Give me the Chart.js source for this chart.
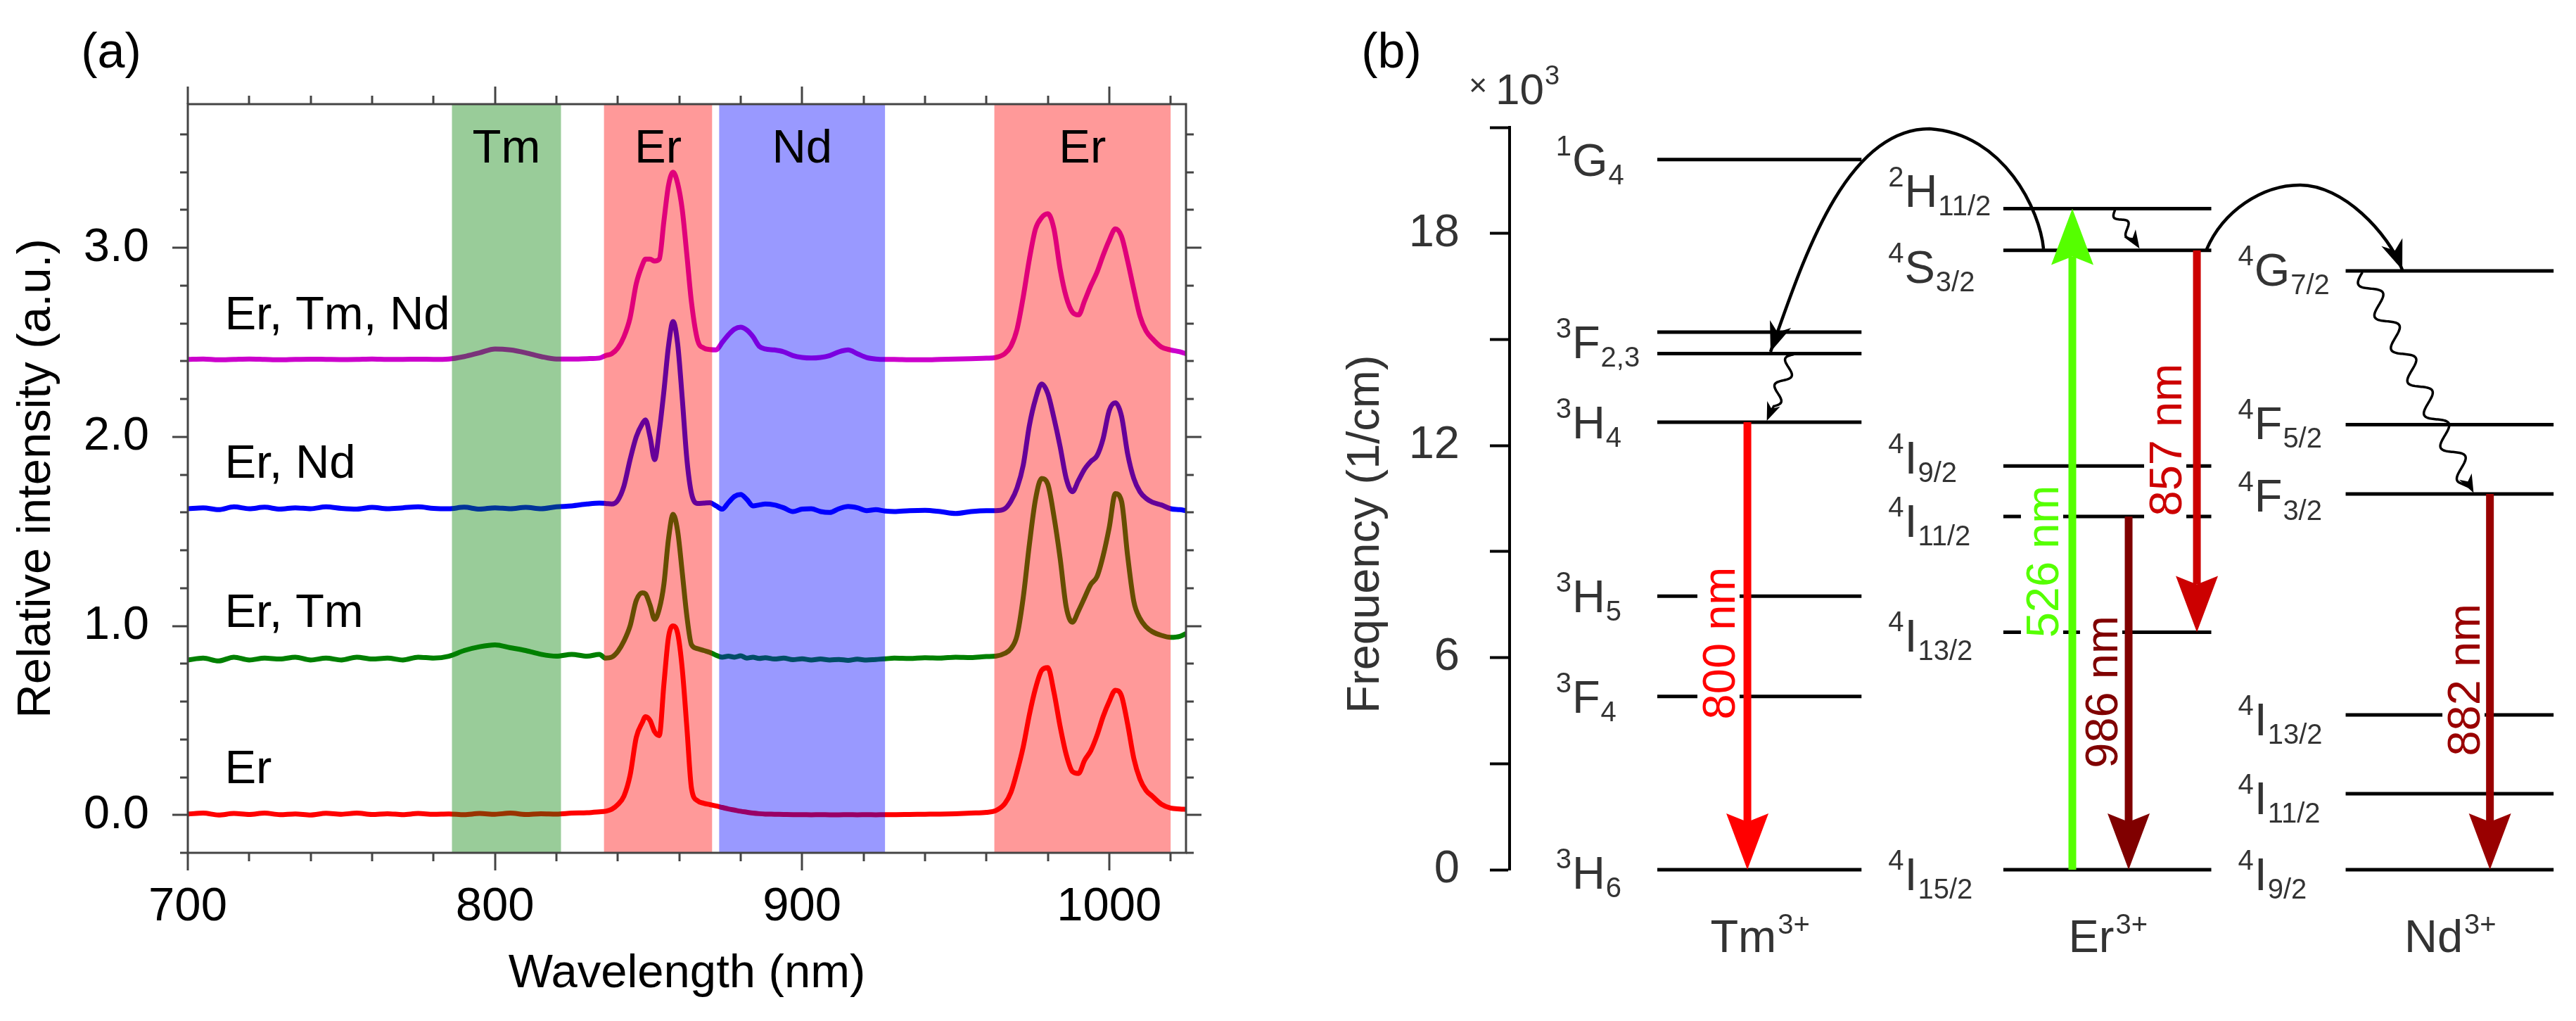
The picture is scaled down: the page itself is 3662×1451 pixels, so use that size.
<!DOCTYPE html>
<html>
<head>
<meta charset="utf-8">
<script src="https://cdn.jsdelivr.net/npm/chart.js@4.4.0/dist/chart.umd.min.js"></script>
<style>
  html, body { margin: 0; padding: 0; background: #fff; }
  body { width: 3662px; height: 1451px; position: relative; overflow: hidden; }
  #specWrap { position: absolute; left: 0; top: 0; width: 1800px; height: 1451px; }
  #levelWrap { position: absolute; left: 1850px; top: 0; width: 1812px; height: 1451px; }
</style>
</head>
<body>
<div id="specWrap"><canvas id="specChart" width="1800" height="1451"></canvas></div>
<div id="levelWrap"><canvas id="levelChart" width="1812" height="1451"></canvas></div>
<script>
// ---------- (a) emission spectra ----------
const wl = [700,705,710,715,720,725,730,735,740,745,750,755,760,765,770,775,780,
  785,790,795,800,805,810,815,820,825,830,
  834,836,838,840,842,844,846,848,
  849,850.5,852,853.5,855,856.5,858,859.5,861,862.5,864,
  866,868,870,872,874,876,878,880,882,884,886,888,
  891,894,897,900,903,906,909,912,915,918,921,924,927,930,
  935,940,945,950,955,960,
  963,966,
  968,970,972,974,976,978,980,982,984,986,988,990,992,994,996,998,1000,1002,1004,1006,1008,1010,1012,1014,
  1017,1020,1023,1025];

const er = [0.005,0.010,0.000,0.008,0.003,0.010,0.002,0.006,0.000,0.009,0.004,0.010,0.003,0.007,0.002,0.008,0.004,
  0.006,0.002,0.008,0.004,0.010,0.003,0.007,0.005,0.010,0.012,
  0.017,0.020,0.030,0.055,0.100,0.210,0.410,0.490,
  0.520,0.500,0.440,0.420,0.690,0.940,1.000,0.960,0.770,0.460,0.140,
  0.075,0.062,0.055,0.048,0.040,0.032,0.026,0.020,0.015,0.010,0.007,0.005,
  0.004,0.003,0.002,0.002,0.001,0.002,0.001,0.001,0.002,0.001,0.002,0.001,0.002,0.002,
  0.003,0.004,0.005,0.007,0.010,0.014,
  0.023,0.060,
  0.120,0.230,0.360,0.530,0.670,0.765,0.780,0.650,0.470,0.320,0.230,0.220,0.290,0.340,0.420,0.520,0.600,0.660,0.630,0.480,0.300,0.190,0.130,0.100,
  0.057,0.037,0.032,0.030];

const erTm = [0.820,0.830,0.815,0.835,0.820,0.830,0.825,0.835,0.820,0.830,0.820,0.835,0.825,0.830,0.820,0.835,0.830,
  0.840,0.870,0.890,0.900,0.885,0.870,0.850,0.840,0.850,0.840,
  0.850,0.830,0.835,0.865,0.920,1.000,1.134,1.175,
  1.170,1.110,1.035,1.090,1.220,1.460,1.590,1.500,1.280,1.050,0.900,
  0.880,0.870,0.860,0.845,0.835,0.840,0.835,0.842,0.830,0.835,0.828,0.832,
  0.825,0.830,0.822,0.826,0.820,0.825,0.820,0.823,0.818,0.824,0.820,0.823,0.826,0.830,
  0.828,0.832,0.830,0.835,0.833,0.838,
  0.840,0.855,
  0.880,0.950,1.150,1.430,1.670,1.780,1.750,1.580,1.360,1.100,1.020,1.080,1.150,1.220,1.260,1.370,1.520,1.700,1.660,1.370,1.130,1.040,0.995,0.970,
  0.950,0.940,0.945,0.960];

const erNd = [1.620,1.625,1.615,1.630,1.620,1.628,1.618,1.625,1.620,1.630,1.622,1.618,1.627,1.620,1.625,1.630,1.622,
  1.620,1.628,1.618,1.625,1.620,1.627,1.620,1.630,1.635,1.645,
  1.650,1.648,1.645,1.665,1.740,1.880,2.000,2.070,
  2.090,2.000,1.880,2.030,2.240,2.480,2.610,2.490,2.200,1.880,1.700,
  1.648,1.650,1.652,1.635,1.618,1.652,1.685,1.695,1.670,1.635,1.640,1.645,
  1.640,1.625,1.605,1.618,1.620,1.605,1.600,1.620,1.632,1.625,1.610,1.615,1.608,1.605,
  1.610,1.612,1.605,1.595,1.605,1.610,
  1.610,1.620,
  1.660,1.730,1.850,2.060,2.200,2.280,2.230,2.100,1.950,1.780,1.710,1.770,1.830,1.870,1.900,1.990,2.140,2.180,2.110,1.910,1.780,1.710,1.675,1.655,
  1.640,1.620,1.615,1.610];

const erTmNd = [2.410,2.412,2.408,2.410,2.412,2.410,2.408,2.410,2.411,2.410,2.409,2.410,2.412,2.410,2.410,2.411,2.410,
  2.412,2.425,2.445,2.465,2.460,2.445,2.425,2.412,2.412,2.414,
  2.417,2.430,2.440,2.470,2.530,2.630,2.810,2.910,
  2.940,2.940,2.930,2.940,3.140,3.330,3.400,3.340,3.200,2.960,2.710,
  2.510,2.470,2.462,2.460,2.500,2.540,2.570,2.580,2.565,2.530,2.480,2.465,
  2.460,2.450,2.430,2.420,2.417,2.420,2.430,2.450,2.460,2.440,2.420,2.412,2.410,2.410,
  2.408,2.408,2.410,2.412,2.414,2.416,
  2.420,2.440,
  2.480,2.570,2.740,2.940,3.100,3.160,3.180,3.100,2.890,2.740,2.660,2.645,2.720,2.800,2.870,2.960,3.040,3.100,3.060,2.930,2.780,2.640,2.560,2.520,
  2.475,2.460,2.450,2.440];

const seriesNames = ['Er', 'Er, Tm', 'Er, Nd', 'Er, Tm, Nd'];
const bandFrom = [786, 835.5, 873, 962.6];
const bandTo = [821.5, 870.7, 927, 1020];
const bandNames = ['Tm', 'Er', 'Nd', 'Er'];
const xTicks = [700, 800, 900, 1000];
const yTicks = [0, 1, 2, 3];

const FONT = '"Liberation Sans", Arial, sans-serif';
const bandFill = ['rgba(0,128,0,0.4)', 'rgba(255,0,0,0.4)', 'rgba(0,0,255,0.4)', 'rgba(255,0,0,0.4)'];
const seriesColor = ['#ff0000', '#008000', '#0000ff', '#cc00cc'];
// where the text labels sit, in axis units
const seriesLabelX = 712;
const seriesLabelY = [0.238, 1.064, 1.853, 2.638];
const bandLabelY = 3.52;

const specBands = {
  id: 'specBands',
  afterDatasetsDraw(chart) {
    const {ctx, chartArea: a, scales: {x, y}} = chart;
    ctx.save();
    ctx.font = `67px ${FONT}`;
    ctx.textBaseline = 'middle';
    bandFrom.forEach((f, i) => {
      const x0 = x.getPixelForValue(f), x1 = x.getPixelForValue(bandTo[i]);
      ctx.fillStyle = bandFill[i];
      ctx.fillRect(x0, a.top, x1 - x0, a.bottom - a.top);
      ctx.fillStyle = '#000';
      ctx.textAlign = 'center';
      ctx.fillText(bandNames[i], (x0 + x1) / 2, y.getPixelForValue(bandLabelY));
    });
    ctx.textAlign = 'left';
    seriesNames.forEach((n, i) => {
      ctx.fillText(n, x.getPixelForValue(seriesLabelX), y.getPixelForValue(seriesLabelY[i]));
    });
    ctx.restore();
  },
  afterDraw(chart) {
    const {ctx, chartArea: a, scales: {x, y}} = chart;
    ctx.save();
    ctx.strokeStyle = '#444';
    ctx.lineWidth = 3;
    ctx.strokeRect(a.left, a.top, a.right - a.left, a.bottom - a.top);
    ctx.beginPath();
    for (let v = 700; v <= 1020; v += 20) {
      const px = Math.round(x.getPixelForValue(v));
      const len = v % 100 === 0 ? 25 : 12;
      ctx.moveTo(px, a.bottom); ctx.lineTo(px, a.bottom + len);
      ctx.moveTo(px, a.top); ctx.lineTo(px, a.top - len);
    }
    for (let k = -1; k <= 18; k++) {
      const py = Math.round(y.getPixelForValue(k / 5));
      const len = k % 5 === 0 ? 22 : 11;
      ctx.moveTo(a.left, py); ctx.lineTo(a.left - len, py);
      ctx.moveTo(a.right, py); ctx.lineTo(a.right + len, py);
    }
    ctx.stroke();
    ctx.fillStyle = '#000';
    ctx.font = `70px ${FONT}`;
    ctx.textAlign = 'center';
    ctx.fillText('(a)', 158, 96);
    ctx.restore();
  }
};

const specSeries = [er, erTm, erNd, erTmNd];
new Chart(document.getElementById('specChart'), {
  type: 'line',
  data: {
    datasets: specSeries.map((vals, i) => ({
      label: seriesNames[i],
      data: wl.map((w, j) => ({x: w, y: vals[j]})),
      borderColor: seriesColor[i],
      borderWidth: 7,
      pointRadius: 0,
      cubicInterpolationMode: 'monotone',
      fill: false
    }))
  },
  options: {
    responsive: false,
    animation: false,
    devicePixelRatio: 1,
    layout: {padding: {left: 0, right: 114, top: 148, bottom: 0}},
    plugins: {legend: {display: false}, tooltip: {enabled: false}},
    scales: {
      x: {
        type: 'linear', min: 700, max: 1025,
        afterFit: s => { s.height = 239; },
        afterBuildTicks: s => { s.ticks = xTicks.map(v => ({value: v})); },
        grid: {display: false, drawTicks: false},
        border: {display: false},
        ticks: {color: '#000', font: {family: FONT, size: 67}, padding: 37, maxRotation: 0,
                callback: v => String(v)},
        title: {display: true, text: 'Wavelength (nm)', color: '#000',
                font: {family: FONT, size: 67}, padding: {top: 0, bottom: 26}}
      },
      y: {
        type: 'linear', min: -0.2, max: 3.76,
        afterFit: s => { s.width = 267; },
        afterBuildTicks: s => { s.ticks = yTicks.map(v => ({value: v})); },
        grid: {display: false, drawTicks: false},
        border: {display: false},
        ticks: {color: '#000', font: {family: FONT, size: 67}, padding: 55,
                callback: v => v.toFixed(1)},
        title: {display: true, text: 'Relative intensity (a.u.)', color: '#000',
                font: {family: FONT, size: 67}, padding: {top: 12, bottom: 0}}
      }
    }
  },
  plugins: [specBands]
});

// ---------- (b) energy levels ----------
const tmEnergy = [20.09, 15.21, 14.60, 12.66, 7.74, 4.90, 0];
const tmTerms = ['1G4', '3F2,3', '', '3H4', '3H5', '3F4', '3H6'];
const erEnergy = [18.70, 17.52, 11.42, 9.99, 6.72, 0];
const erTerms = ['2H11/2', '4S3/2', '4I9/2', '4I11/2', '4I13/2', '4I15/2'];
const ndEnergy = [16.94, 12.59, 10.63, 4.38, 2.15, 0];
const ndTerms = ['4G7/2', '4F5/2', '4F3/2', '4I13/2', '4I11/2', '4I9/2'];
const ionNames = ['Tm', 'Er', 'Nd'];
const emission = ['800 nm', '526 nm', '986 nm', '857 nm', '882 nm'];
const emissionFrom = [12.66, 0, 9.99, 17.52, 10.63];
const emissionTo = [0, 18.70, 0, 6.72, 0];

// layout of the diagram, x in column units (0..10), shifts in px
const colSpan = [[1.385, 3.30], [4.63, 6.58], [7.84, 9.79]];
const termX = [0.433, 3.55, 6.83];
const termShift = [[0, 14, 0, 0, 0, 0, 4], [-26, 23, -12, 6, 5, 6], [-2, -3, 2, 6, 6, 6]];
const emissionX = [2.23, 5.277, 5.805, 6.445, 9.193];
const emissionLabelX = [1.959, 4.993, 5.547, 6.148, 8.945];
const emissionLabelY = [6.41, 8.72, 5.03, 12.16, 5.37];
const emissionColor = ['#ff0000', '#55ff00', '#800000', '#cc0000', '#990000'];
const arcs = [
  [[5.007, 17.56], [4.974, 18.63], [4.644, 20.82], [3.938, 20.96], [3.127, 20.96], [2.731, 17.04], [2.447, 14.65]],
  [[6.535, 17.54], [6.689, 18.63], [7.052, 19.37], [7.414, 19.37], [7.81, 19.37], [8.239, 18.03], [8.371, 16.97]]
];
const waves = [
  {from: [5.677, 18.66], to: [5.907, 17.57], amp: 7, period: 32},
  {from: [2.665, 14.58], to: [2.412, 12.70], amp: 9, period: 40},
  {from: [7.997, 16.90], to: [9.04, 10.66], amp: 13, period: 52}
];
const termsOf = [tmTerms, erTerms, ndTerms];
const energyOf = [tmEnergy, erEnergy, ndEnergy];

function drawTerm(ctx, term, x, cy) {
  const sup = term[0], main = term[1], sub = term.slice(2);
  const base = cy + 23;
  ctx.textAlign = 'left';
  ctx.textBaseline = 'alphabetic';
  ctx.font = `40px ${FONT}`;
  ctx.fillText(sup, x, base - 29);
  let cx = x + ctx.measureText(sup).width + 1;
  ctx.font = `65px ${FONT}`;
  ctx.fillText(main, cx, base);
  cx += ctx.measureText(main).width + 1;
  ctx.font = `40px ${FONT}`;
  ctx.fillText(sub, cx, base + 12);
}

function drawVLabel(ctx, text, px, py, color) {
  ctx.save();
  ctx.translate(px, py);
  ctx.rotate(-Math.PI / 2);
  ctx.font = `65px ${FONT}`;
  const w = ctx.measureText(text).width;
  ctx.fillStyle = '#fff';
  ctx.fillRect(-w / 2 - 6, -30, w + 12, 60);
  ctx.fillStyle = color;
  ctx.textAlign = 'center';
  ctx.textBaseline = 'alphabetic';
  ctx.fillText(text, 0, 23);
  ctx.restore();
}

function drawStraightArrow(ctx, px, y0, y1, color) {
  const dir = Math.sign(y1 - y0);
  const headL = 80, headW = 30, notch = 12, shaft = 11;
  const yBase = y1 - dir * (headL - notch);
  ctx.fillStyle = color;
  ctx.fillRect(px - shaft / 2, Math.min(y0, yBase), shaft, Math.abs(yBase - y0));
  ctx.beginPath();
  ctx.moveTo(px, y1);
  ctx.lineTo(px - headW, y1 - dir * headL);
  ctx.lineTo(px, yBase);
  ctx.lineTo(px + headW, y1 - dir * headL);
  ctx.closePath();
  ctx.fill();
}

function drawHead(ctx, tx, ty, ang, len, half) {
  ctx.save();
  ctx.translate(tx, ty);
  ctx.rotate(ang);
  ctx.beginPath();
  ctx.moveTo(0, 0);
  ctx.lineTo(-len, -half);
  ctx.lineTo(-len * 0.7, 0);
  ctx.lineTo(-len, half);
  ctx.closePath();
  ctx.fill();
  ctx.restore();
}

const levelDecor = {
  id: 'levelDecor',
  afterDatasetsDraw(chart) {
    const {ctx, scales: {x, y}} = chart;
    const X = v => x.getPixelForValue(v), Y = v => y.getPixelForValue(v);
    ctx.save();
    ctx.fillStyle = '#333';
    termsOf.forEach((terms, j) => {
      terms.forEach((t, i) => {
        if (t) drawTerm(ctx, t, X(termX[j]), Y(energyOf[j][i]) + termShift[j][i]);
      });
    });
    emission.forEach((t, i) => drawVLabel(ctx, t, X(emissionLabelX[i]), Y(emissionLabelY[i]), emissionColor[i]));
    emission.forEach((t, i) => drawStraightArrow(ctx, X(emissionX[i]), Y(emissionFrom[i]), Y(emissionTo[i]), emissionColor[i]));

    // energy transfer arcs
    ctx.strokeStyle = '#000';
    ctx.fillStyle = '#000';
    ctx.lineWidth = 4.5;
    arcs.forEach(p => {
      const q = p.map(([u, v]) => [X(u), Y(v)]);
      ctx.beginPath();
      ctx.moveTo(q[0][0], q[0][1]);
      ctx.bezierCurveTo(q[1][0], q[1][1], q[2][0], q[2][1], q[3][0], q[3][1]);
      ctx.bezierCurveTo(q[4][0], q[4][1], q[5][0], q[5][1], q[6][0], q[6][1]);
      ctx.stroke();
      drawHead(ctx, q[6][0], q[6][1], Math.atan2(q[6][1] - q[5][1], q[6][0] - q[5][0]), 42, 16);
    });

    // non-radiative relaxation
    ctx.lineWidth = 3.5;
    waves.forEach(w => {
      const x0 = X(w.from[0]), y0 = Y(w.from[1]), x1 = X(w.to[0]), y1 = Y(w.to[1]);
      const L = Math.hypot(x1 - x0, y1 - y0), ux = (x1 - x0) / L, uy = (y1 - y0) / L;
      const head = 22;
      ctx.beginPath();
      for (let s = 0; s <= L - head; s += 1) {
        const o = w.amp * Math.sin(2 * Math.PI * s / w.period);
        const px = x0 + ux * s - uy * o, py = y0 + uy * s + ux * o;
        if (s === 0) ctx.moveTo(px, py); else ctx.lineTo(px, py);
      }
      ctx.lineTo(x1 - ux * 8, y1 - uy * 8);
      ctx.stroke();
      drawHead(ctx, x1, y1, Math.atan2(uy, ux), 26, 10);
    });

    // ion names under the columns
    ctx.fillStyle = '#333';
    ctx.textBaseline = 'alphabetic';
    ctx.textAlign = 'left';
    ionNames.forEach((ion, j) => {
      ctx.font = `65px ${FONT}`;
      const w1 = ctx.measureText(ion).width;
      ctx.font = `40px ${FONT}`;
      const w2 = ctx.measureText('3+').width;
      const cx = (X(colSpan[j][0]) + X(colSpan[j][1])) / 2 - (w1 + w2) / 2;
      ctx.font = `65px ${FONT}`;
      ctx.fillText(ion, cx, 1353);
      ctx.font = `40px ${FONT}`;
      ctx.fillText('3+', cx + w1 + 2, 1327);
    });

    // axis title, multiplier and panel letter
    ctx.save();
    ctx.translate(92, 759);
    ctx.rotate(-Math.PI / 2);
    ctx.font = `65px ${FONT}`;
    ctx.textAlign = 'center';
    ctx.textBaseline = 'middle';
    ctx.fillStyle = '#333';
    ctx.fillText('Frequency (1/cm)', 0, 0);
    ctx.restore();
    ctx.textAlign = 'left';
    ctx.font = `45px ${FONT}`;
    ctx.textBaseline = 'middle';
    ctx.fillText('\u00d7', 238, 124);
    ctx.textBaseline = 'alphabetic';
    ctx.font = `62px ${FONT}`;
    ctx.fillText('10', 276, 148);
    ctx.font = `38px ${FONT}`;
    ctx.fillText('3', 346, 120);
    ctx.fillStyle = '#000';
    ctx.font = `70px ${FONT}`;
    ctx.textAlign = 'center';
    ctx.fillText('(b)', 128, 96);
    ctx.restore();
  }
};

const levelSets = [];
energyOf.forEach((E, j) => {
  E.forEach(e => levelSets.push({
    data: [{x: colSpan[j][0], y: e}, {x: colSpan[j][1], y: e}],
    borderColor: '#000', borderWidth: 5, pointRadius: 0, showLine: true, clip: false
  }));
});

new Chart(document.getElementById('levelChart'), {
  type: 'scatter',
  data: {datasets: levelSets},
  options: {
    responsive: false,
    animation: false,
    devicePixelRatio: 1,
    layout: {padding: {left: 0, right: 0, top: 181, bottom: 215}},
    plugins: {legend: {display: false}, tooltip: {enabled: false}},
    scales: {
      x: {type: 'linear', min: 0, max: 10, display: false},
      y: {
        type: 'linear', min: 0, max: 21,
        afterFit: s => { s.width = 296; },
        grid: {drawOnChartArea: false, drawTicks: true, tickLength: 28, tickWidth: 4, tickColor: '#000'},
        border: {display: true, color: '#000', width: 4},
        ticks: {stepSize: 3, color: '#333', font: {family: FONT, size: 65}, padding: 43,
                callback: v => (v % 6 === 0 ? String(v) : '')}
      }
    }
  },
  plugins: [levelDecor]
});
</script>
</body>
</html>
